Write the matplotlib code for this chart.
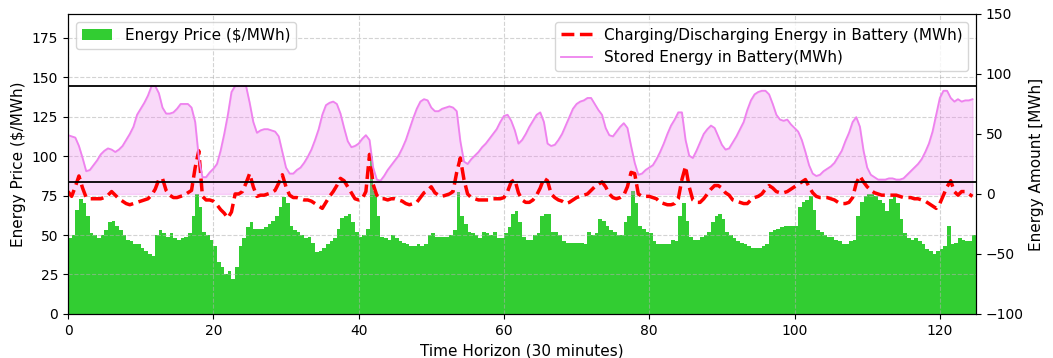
import numpy as np
import matplotlib
matplotlib.use("Agg")
import matplotlib.pyplot as plt

# energy price per half-hour step ($/MWh), step 0.5 on the time axis
price = [
    48, 50, 66, 73, 70, 62, 51, 50, 48, 50, 53, 58, 59, 56, 53, 50, 47, 46, 44, 44,
    42, 40, 38, 37, 50, 53, 51, 49, 51, 48, 47, 48, 49, 51, 62, 76, 68, 52, 50, 47,
    43, 33, 30, 25, 27, 22, 30, 43, 48, 55, 58, 54, 54, 54, 55, 57, 59, 62, 68, 74,
    70, 56, 53, 52, 50, 48, 49, 45, 39, 40, 42, 44, 46, 48, 54, 61, 62, 63, 58, 52,
    49, 50, 54, 100, 78, 62, 49, 48, 47, 50, 48, 46, 45, 44, 43, 43, 44, 43, 44, 50,
    51, 49, 49, 49, 49, 50, 53, 77, 62, 57, 52, 51, 50, 48, 52, 51, 50, 52, 48, 48,
    51, 55, 63, 65, 58, 49, 47, 47, 50, 51, 62, 63, 63, 52, 52, 50, 46, 45, 45, 45,
    45, 45, 44, 52, 50, 51, 60, 59, 56, 53, 52, 50, 50, 58, 62, 78, 70, 56, 54, 52,
    51, 46, 44, 44, 44, 44, 47, 46, 62, 70, 59, 49, 47, 47, 49, 50, 52, 58, 62, 63,
    60, 52, 50, 48, 46, 45, 44, 43, 42, 42, 42, 43, 44, 52, 53, 54, 55, 56, 56, 56,
    56, 68, 71, 72, 75, 66, 53, 52, 50, 49, 49, 47, 46, 44, 44, 46, 47, 62, 71, 75,
    76, 76, 75, 72, 70, 65, 73, 75, 70, 60, 51, 48, 47, 48, 46, 44, 41, 40, 38, 40,
    41, 43, 56, 44, 45, 48, 47, 46, 46, 50,
]

# charging (+) / discharging (-) energy, same steps as price
charge = [
    2, -2, 6, 15, 5, -3, -4, -4, -4, -4, -3, -1, 2, -1, -4, -6, -8, -9, -8, -7,
    -6, -5, -4, -1, 4, 12, 13, 3, -1, -3, -3, -2, -1, 1, 3, 22, 36, -2, -5, -5,
    -6, -9, -13, -16, -20, -15, 0, 0, 2, 9, 17, 6, -2, -1, -1, 0, 1, 3, 9, 16,
    6, -1, -3, -3, -4, -5, -5, -6, -8, -10, -12, -7, -2, 2, 7, 13, 11, 6, 1, -4,
    -5, -4, 2, 33, 8, -1, -4, -4, -5, -4, -4, -5, -6, -8, -9, -8, -7, -3, 1, 3,
    6, 1, -1, -2, -1, 0, 2, 18, 30, 12, 0, -3, -4, -5, -5, -5, -5, -4, -4, -4,
    -3, 2, 10, 12, 1, -5, -7, -7, -5, -1, 5, 13, 11, 0, -3, -5, -6, -8, -7, -5,
    -3, -2, -1, 0, 3, 6, 8, 10, 6, 0, -3, -4, -3, -1, 6, 18, 17, 0, -2, -2,
    -2, -3, -4, -7, -8, -9, -9, -8, -4, 12, 23, 6, -5, -7, -7, -4, 0, 4, 7, 7,
    5, 1, -1, -5, -6, -7, -8, -8, -5, -3, -2, 0, 4, 7, 5, 2, 1, 1, 2, 4,
    6, 8, 10, 12, 6, 1, -2, -3, -3, -3, -4, -5, -7, -8, -8, -7, -3, 9, 15, 10,
    6, 3, 1, 0, -1, -1, -1, -1, -1, -2, -3, -3, -3, -4, -4, -5, -6, -8, -10, -12,
    -8, -1, 6, 11, 2, -1, 2, 2, 0, -2,
]

# energy stored in the battery, same steps as price
stored = [
    49, 48, 47, 40, 30, 19, 20, 24, 28, 33, 36, 38, 37, 35, 37, 40, 45, 50, 56, 66,
    71, 76, 82, 90, 90, 84, 72, 67, 67, 68, 71, 75, 75, 75, 72, 60, 30, 14, 14, 18,
    21, 25, 36, 50, 66, 85, 90, 90, 90, 90, 76, 60, 51, 53, 54, 54, 53, 52, 48, 35,
    22, 17, 17, 20, 22, 26, 31, 37, 45, 54, 66, 74, 76, 77, 75, 67, 55, 44, 39, 40,
    42, 46, 49, 45, 22, 12, 11, 15, 20, 24, 28, 32, 38, 45, 54, 63, 71, 77, 79, 78,
    72, 69, 69, 71, 72, 73, 72, 69, 44, 27, 25, 29, 32, 35, 39, 42, 46, 50, 54, 60,
    65, 66, 61, 53, 42, 45, 50, 56, 61, 66, 68, 60, 42, 40, 41, 45, 50, 57, 64, 71,
    75, 77, 78, 80, 80, 75, 70, 66, 55, 49, 48, 52, 56, 59, 55, 40, 26, 16, 17, 20,
    22, 24, 29, 35, 42, 50, 57, 62, 68, 68, 45, 32, 30, 36, 43, 50, 54, 57, 55, 48,
    41, 37, 38, 43, 48, 54, 60, 70, 78, 83, 85, 86, 86, 83, 75, 66, 62, 61, 62, 58,
    55, 52, 45, 35, 24, 17, 15, 16, 19, 21, 23, 26, 31, 36, 44, 51, 60, 64, 56, 36,
    22, 16, 14, 12, 12, 12, 13, 13, 12, 12, 13, 16, 19, 22, 25, 29, 35, 42, 52, 66,
    80, 86, 86, 80, 77, 79, 77, 78, 78, 79,
]

t = np.arange(len(price)) * 0.5

fig, ax1 = plt.subplots(figsize=(10.53, 3.58), dpi=100)
fig.subplots_adjust(left=0.0646, right=0.927, bottom=0.123, top=0.961)

ax1.bar(t, price, width=0.5, align='edge', color='limegreen', label='Energy Price ($/MWh)')
ax1.set_xlim(0, 125)
ax1.set_ylim(0, 190)
ax1.set_xlabel('Time Horizon (30 minutes)', fontsize=11)
ax1.set_ylabel('Energy Price ($/MWh)', fontsize=11)
ax1.grid(True, linestyle='--', alpha=0.55)
ax1.legend(loc='upper left', fontsize=11)

ax2 = ax1.twinx()
ax2.plot(t, charge, 'r--', linewidth=2.5, label='Charging/Discharging Energy in Battery (MWh)')
ax2.plot(t, stored, color='violet', linewidth=1.3, label='Stored Energy in Battery(MWh)')
ax2.fill_between(t, 0, stored, color='violet', alpha=0.3)
ax2.axhline(90, color='black', linewidth=1.3)
ax2.axhline(10, color='black', linewidth=1.3)
ax2.set_ylim(-100, 150)
ax2.set_ylabel('Energy Amount [MWh]', fontsize=11)
ax2.legend(loc='upper right', fontsize=11)

plt.savefig('out.png', dpi=100)
